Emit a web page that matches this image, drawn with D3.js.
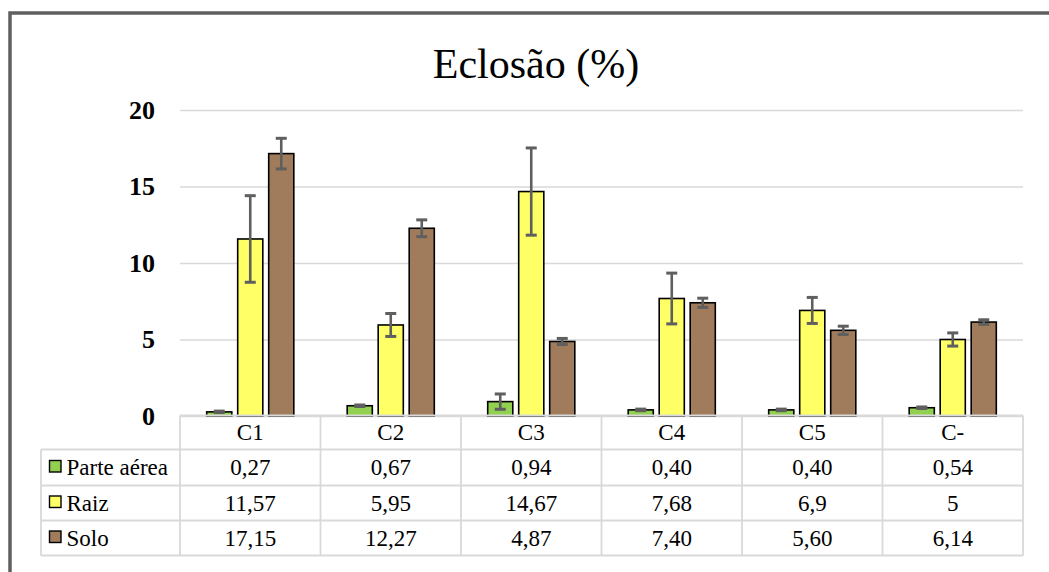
<!DOCTYPE html>
<html><head><meta charset="utf-8">
<script src="https://cdn.jsdelivr.net/npm/d3@7"></script>
<style>html,body{margin:0;padding:0;background:#fff;overflow:hidden}svg{display:block}</style>
</head><body>
<svg id="c" width="1049" height="572"></svg>
<script>
const categories = ["C1","C2","C3","C4","C5","C-"];
const seriesNames = ["Parte aérea","Raiz","Solo"];
const parteAerea = [0.27,0.67,0.94,0.40,0.40,0.54];
const raiz = [11.57,5.95,14.67,7.68,6.9,5];
const solo = [17.15,12.27,4.87,7.40,5.60,6.14];
const errParte = [0.05,0.05,0.5,0.05,0.05,0.05];
const errRaiz = [2.83,0.75,2.85,1.66,0.85,0.43];
const errSolo = [1.0,0.55,0.2,0.3,0.27,0.15];
const labelsParte = ["0,27","0,67","0,94","0,40","0,40","0,54"];
const labelsRaiz = ["11,57","5,95","14,67","7,68","6,9","5"];
const labelsSolo = ["17,15","12,27","4,87","7,40","5,60","6,14"];
const yTicks = [0,5,10,15,20];
const colors = ["#92D050","#FFFF66","#A07C5C"];

const values = [parteAerea, raiz, solo];
const errs = [errParte, errRaiz, errSolo];
const labels = [labelsParte, labelsRaiz, labelsSolo];

const svg = d3.select("#c");
const FF = '"Liberation Serif"';

// outer chart border
svg.append("rect").attr("x",10).attr("y",13).attr("width",1100).attr("height",620)
  .attr("fill","#fff").attr("stroke","#5f5f5f").attr("stroke-width",3.5);

const pLeft = 180, pRight = 1023, pTop = 110, pBottom = 416;
const x = d3.scaleBand().domain(categories).range([pLeft,pRight]).padding(0);
const cw = x.bandwidth();
const xs = d3.scaleBand().domain(seriesNames).range([cw/2-46.5, cw/2+46.5]).paddingInner(0.19).paddingOuter(0.095);
const y = d3.scaleLinear().domain([0,20]).range([pBottom,pTop]);

// title
svg.append("text").attr("x",536).attr("y",78).attr("text-anchor","middle")
  .style("font-family",FF).style("font-size","42px").attr("fill","#000").text("Eclosão (%)");

// gridlines + y labels
const ya = svg.append("g").attr("transform",`translate(${pRight},0)`)
  .call(d3.axisLeft(y).tickValues(yTicks).tickSize(pRight-pLeft).tickPadding(25).tickFormat(d3.format("d")));
ya.select(".domain").remove();
ya.selectAll(".tick line").attr("stroke","#d9d9d9").attr("stroke-width",1.5);
ya.selectAll(".tick text").style("font-family",FF).style("font-size","26px").style("font-weight","bold").attr("fill","#000");

// bars
const rows = [];
seriesNames.forEach((s,i)=>categories.forEach((c,j)=>rows.push({s,c,i,v:values[i][j],e:errs[i][j]})));
const g = svg.append("g");
g.selectAll("rect.bar").data(rows).join("rect").attr("class","bar")
  .attr("x",d=>x(d.c)+xs(d.s)).attr("width",xs.bandwidth())
  .attr("y",d=>y(d.v)).attr("height",d=>y(0)-y(d.v))
  .attr("fill",d=>colors[d.i]).attr("stroke","#000").attr("stroke-width",1.6);

// error bars
const eb = svg.append("g").attr("stroke","#5f5f5f").attr("stroke-width",2.6);
rows.forEach(d=>{
  const cx = x(d.c)+xs(d.s)+xs.bandwidth()/2;
  eb.append("line").attr("x1",cx).attr("x2",cx).attr("y1",y(d.v+d.e)).attr("y2",y(d.v-d.e));
  [d.v+d.e,d.v-d.e].forEach(v=>eb.append("line").attr("x1",cx-5.5).attr("x2",cx+5.5).attr("y1",y(v)).attr("y2",y(v)).attr("stroke-width",3));
});

// data table
const tLeft = 41;
const rowY = [415.5, 449.5, 485.5, 520.5, 555.5];
const tg = svg.append("g").attr("stroke","#d9d9d9").attr("stroke-width",1.8);
tg.append("line").attr("x1",pLeft).attr("x2",pRight).attr("y1",rowY[0]).attr("y2",rowY[0]);
rowY.slice(1).forEach(yy=>tg.append("line").attr("x1",tLeft).attr("x2",pRight).attr("y1",yy).attr("y2",yy));
tg.append("line").attr("x1",tLeft).attr("x2",tLeft).attr("y1",rowY[1]).attr("y2",rowY[4]);
categories.concat([null]).forEach((c,j)=>{
  const xx = c===null ? pRight : x(c);
  tg.append("line").attr("x1",xx).attr("x2",xx).attr("y1",rowY[0]).attr("y2",rowY[4]);
});

const txt = svg.append("g").attr("fill","#000");
function cell(xp, yp, s, anchor){
  return txt.append("text").attr("x",xp).attr("y",yp).attr("text-anchor",anchor)
    .style("font-family",FF).style("font-size","23px").text(s);
}
categories.forEach(c=>cell(x(c)+cw/2,(rowY[0]+rowY[1])/2+7.5,c,"middle"));
seriesNames.forEach((s,i)=>{
  const cy = (rowY[i+1]+rowY[i+2])/2;
  svg.append("rect").attr("x",49.5).attr("y",cy-7).attr("width",11.5).attr("height",11.5)
    .attr("fill",colors[i]).attr("stroke","#000").attr("stroke-width",1.4);
  cell(66.5, cy+7.8, s, "start");
  categories.forEach((c,j)=>cell(x(c)+cw/2, cy+7.8, labels[i][j], "middle"));
});
</script>
</body></html>
